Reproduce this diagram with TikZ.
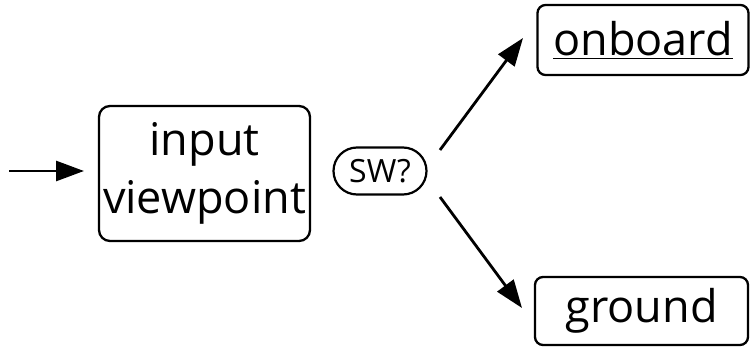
\documentclass[tikz,border=0pt]{standalone}
\usepackage{fontspec}
\setmainfont{Open Sans}
\usetikzlibrary{arrows.meta,shapes.misc}
\begin{document}
\begin{tikzpicture}[x=1pt,y=-1pt,
  box/.style={draw,line width=2.3pt,rounded corners=11pt,inner sep=0pt,align=center,
    font=\fontsize{45}{58}\selectfont},
  pill/.style={draw,line width=2.2pt,rounded rectangle,inner sep=0pt,
    font=\fontsize{32}{40}\selectfont},
  arr/.style={line width=2.8pt,-{Triangle[length=28pt,width=20pt]}}]
\useasboundingbox (0,0) rectangle (753,350);
\node[box,minimum width=211pt,minimum height=135pt] (inp) at (204.5,173.5) {input\\viewpoint};
\node[pill,minimum width=93pt,minimum height=47pt] (sw) at (380,171) {SW?};
\node[box,rounded corners=8pt,minimum width=211pt,minimum height=70pt] (onb) at (643,40) {\underline{onboard}};
\node[box,rounded corners=8pt,minimum width=213pt,minimum height=68pt] (gnd) at (641.5,311) {ground};
\coordinate (src) at (9,171);
\coordinate (inend) at (84,171);
\coordinate (s1) at (440,150);
\coordinate (t1) at (523,38);
\coordinate (s2) at (440,197);
\coordinate (t2) at (522,308);
\draw[arr] (src) -- (inend);
\draw[arr] (s1) -- (t1);
\draw[arr] (s2) -- (t2);
\end{tikzpicture}
\end{document}
